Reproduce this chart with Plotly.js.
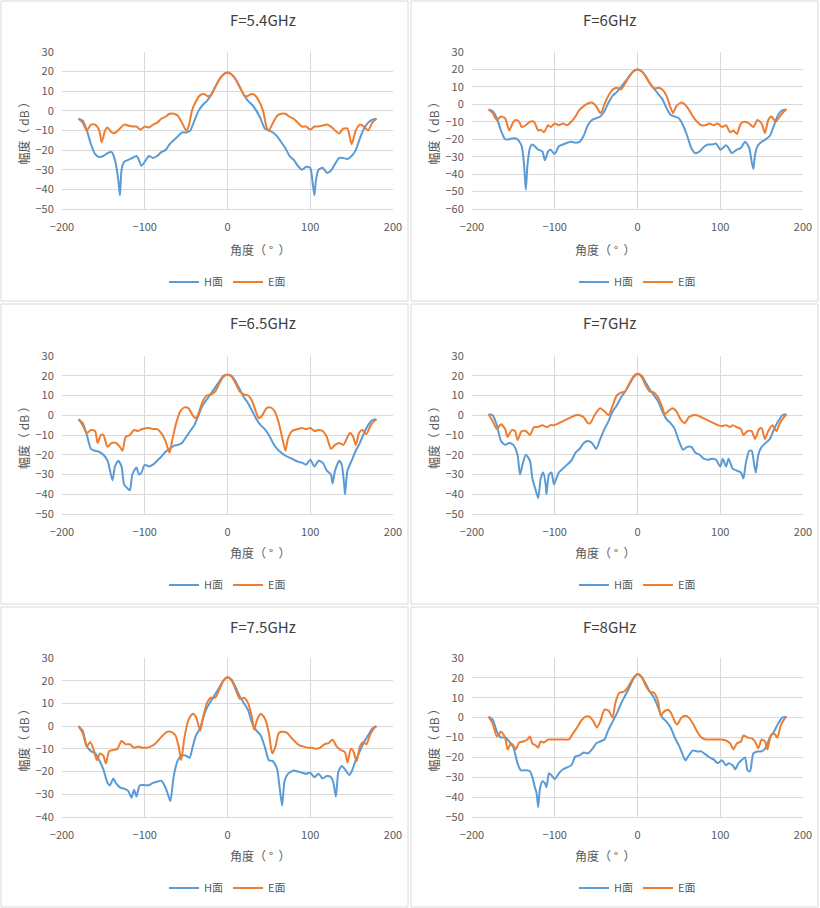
<!DOCTYPE html>
<html>
<head>
<meta charset="utf-8">
<script src="https://cdn.plot.ly/plotly-3.0.1.min.js"></script>
<style>body{margin:0;background:#fff}#chart{width:820px;height:908px}</style>
</head>
<body>
<div id="chart"></div>
<script>
// -----------------------
// Data: [angle, dB]
// -----------------------
const TITLES = ["F=5.4GHz", "F=6GHz", "F=6.5GHz", "F=7GHz", "F=7.5GHz", "F=8GHz"];
const Y_MIN = [-50, -60, -50, -50, -40, -50];

const H_54 = [[-180,-4],[-175,-5],[-170,-10],[-165,-17],[-160,-22],[-155,-23.5],[-150,-23],[-145,-21.5],[-140,-21],[-136,-25],[-132,-35],[-130,-43],[-128,-30],[-125,-26],[-120,-25],[-115,-24],[-110,-23],[-107,-25],[-104,-28],[-100,-26],[-95,-23],[-90,-24],[-85,-23],[-80,-21],[-75,-20],[-70,-17],[-65,-15],[-60,-13],[-55,-11],[-50,-11],[-45,-10],[-40,-5],[-35,0],[-30,3],[-25,5],[-20,8],[-15,12],[-10,16],[-5,18.5],[0,19.5],[5,18.5],[10,16],[15,12],[20,8],[25,5],[30,3],[35,0],[40,-4],[45,-9],[50,-10],[55,-11],[60,-13],[65,-16],[70,-19],[75,-23],[80,-25],[85,-28],[90,-30],[95,-28.5],[100,-29],[103,-37],[105,-43],[107,-35],[110,-30],[115,-29],[120,-31.5],[125,-30.5],[130,-27],[135,-24],[140,-24],[145,-24.5],[150,-23],[155,-20],[160,-14],[165,-9],[170,-6],[175,-4.5],[180,-4]];
const E_54 = [[-180,-4],[-175,-6],[-170,-10],[-165,-7],[-160,-7],[-155,-10],[-152,-16],[-148,-10],[-145,-8.5],[-140,-11],[-135,-11],[-130,-9],[-125,-7],[-120,-7.5],[-115,-8],[-110,-8],[-105,-9.5],[-100,-8],[-95,-8.5],[-90,-7],[-85,-6],[-80,-4],[-75,-3],[-70,-1.5],[-65,-1.5],[-60,-2.5],[-55,-6],[-50,-10],[-47,-8],[-43,0],[-38,5],[-33,8],[-28,8.5],[-24,7.5],[-20,8],[-15,12],[-10,16],[-5,18.5],[0,19.5],[5,18.5],[10,16],[15,12],[20,8],[24,7.5],[28,8.5],[33,8],[38,5],[43,0],[47,-8],[50,-10],[55,-6],[60,-2.5],[65,-1.5],[70,-1.5],[75,-3],[80,-4],[85,-6],[90,-8],[95,-8],[100,-9.5],[105,-8],[110,-8],[115,-7.5],[120,-7],[125,-8],[130,-10],[135,-11.5],[140,-9],[145,-9],[150,-17],[155,-10],[160,-7],[165,-8],[170,-10],[175,-6],[180,-4]];

const H_60 = [[-180,-3],[-175,-4],[-170,-8],[-165,-15],[-160,-20],[-155,-20],[-150,-19.5],[-145,-20],[-140,-24],[-137,-35],[-135,-49],[-133,-35],[-130,-25],[-127,-23],[-120,-26],[-115,-27],[-112,-32],[-108,-27],[-105,-26],[-100,-28.5],[-95,-24],[-90,-23],[-85,-22],[-80,-21.5],[-75,-22],[-70,-21.5],[-65,-18],[-60,-12],[-55,-9],[-50,-8],[-45,-7],[-40,-4],[-35,1],[-30,5],[-25,7],[-20,10],[-15,13],[-10,16],[-5,19],[0,20],[5,19],[10,16],[15,12],[20,9],[25,6],[30,3],[35,-2],[40,-6],[45,-7],[50,-8],[55,-12],[60,-18],[65,-25],[70,-28],[75,-27],[80,-24.5],[85,-23],[90,-23],[95,-22.5],[100,-26],[103,-25],[107,-23.5],[110,-25],[114,-28],[120,-26],[125,-25],[130,-21.5],[135,-25],[138,-33],[140,-37],[142,-29],[145,-24],[150,-21.5],[155,-20],[160,-18],[165,-12],[170,-6],[175,-3.5],[180,-3]];
const E_60 = [[-180,-3],[-175,-5],[-170,-9],[-165,-7],[-160,-8],[-155,-15],[-150,-10],[-147,-9],[-143,-10],[-140,-13],[-135,-12],[-130,-10],[-125,-10],[-120,-15],[-117,-14.5],[-113,-16],[-108,-12],[-105,-13],[-100,-11],[-95,-12],[-90,-11],[-85,-12],[-80,-10],[-75,-7],[-70,-3],[-65,-1],[-60,0.5],[-55,1],[-50,-1],[-45,-5],[-43,-4],[-40,0],[-35,5],[-30,8.5],[-25,9.5],[-20,8.5],[-15,12],[-10,16],[-5,19],[0,20],[5,19],[10,16],[15,12],[20,9],[25,9.5],[30,8.5],[35,5],[40,-2],[43,-5],[47,-1],[53,1],[57,0],[62,-3],[67,-7],[72,-10],[77,-12],[82,-12],[87,-11],[92,-12],[97,-11],[102,-13],[107,-12],[112,-16],[116,-15],[120,-17],[125,-11],[130,-10],[135,-11],[140,-13],[145,-9],[150,-11],[154,-16.5],[158,-9],[162,-7],[167,-10],[172,-7],[177,-4],[180,-3]];

const H_65 = [[-180,-2],[-175,-4],[-170,-10],[-165,-17],[-160,-18],[-155,-18.5],[-150,-20],[-145,-23],[-142,-28],[-139,-33],[-136,-26],[-132,-23],[-128,-26],[-125,-35],[-121,-37],[-118,-38],[-115,-30],[-110,-26.5],[-107,-30],[-104,-29],[-100,-25],[-95,-26],[-90,-25],[-85,-23],[-80,-21],[-75,-18.5],[-70,-17],[-65,-15.5],[-60,-15],[-55,-14],[-50,-11],[-45,-8],[-40,-5],[-35,0],[-30,5],[-25,8],[-20,11],[-15,14],[-10,17],[-5,20],[0,20.5],[5,20],[10,17],[15,13],[20,9],[25,6],[30,2],[35,-2],[40,-5],[45,-7],[50,-10],[55,-14],[60,-17],[65,-19],[70,-20.5],[75,-21.5],[80,-22.5],[85,-23.5],[90,-24],[95,-25],[100,-22.5],[105,-26],[110,-23],[115,-24],[120,-28],[125,-30],[127,-34.5],[130,-28],[135,-23],[138,-25],[141,-35],[142,-40],[145,-28],[150,-23],[155,-18],[160,-14],[165,-9],[170,-5],[175,-2.5],[180,-2]];
const E_65 = [[-180,-2],[-175,-5],[-170,-9],[-165,-7.5],[-160,-8],[-157,-14],[-153,-10],[-150,-10],[-145,-16],[-140,-14],[-135,-14],[-130,-16],[-127,-18],[-123,-11],[-118,-10],[-113,-7.5],[-108,-8],[-103,-7],[-95,-6.5],[-90,-7],[-85,-7],[-80,-9],[-75,-13],[-70,-19],[-67,-13],[-62,-4],[-57,2],[-52,4],[-47,3.5],[-42,0],[-38,-1.5],[-35,1],[-30,7],[-25,10],[-20,10.5],[-15,12],[-10,16],[-5,19.5],[0,20.5],[5,19.5],[10,16],[15,12],[20,10.5],[25,10],[30,7],[35,1],[38,-1.5],[42,0],[47,3.5],[52,4],[57,2],[62,-4],[67,-13],[70,-18],[73,-12],[78,-8],[85,-7],[90,-6.5],[95,-7],[100,-6.5],[105,-8],[110,-7.5],[115,-8],[120,-11],[125,-17],[130,-15],[135,-14],[140,-15],[145,-11],[148,-9],[152,-11],[155,-15],[159,-9],[163,-7.5],[168,-9.5],[172,-6],[177,-3],[180,-2]];

const H_70 = [[-180,0.5],[-175,0],[-170,-5],[-165,-13],[-160,-15],[-155,-14],[-150,-15],[-145,-20],[-142,-30],[-139,-25],[-135,-20],[-130,-23],[-127,-32],[-123,-38],[-120,-42],[-117,-32],[-114,-29],[-111,-35],[-110,-40],[-107,-30],[-104,-29],[-101,-35],[-98,-32],[-95,-29],[-90,-27],[-85,-25],[-80,-23],[-75,-19],[-70,-17],[-65,-14],[-60,-13],[-55,-14],[-50,-17],[-45,-12],[-40,-7],[-35,-3],[-30,2],[-25,5],[-20,9],[-15,12],[-10,15.5],[-5,19],[0,21],[5,20],[10,16.5],[15,13],[20,10],[25,7],[30,2],[35,-2],[40,-4],[45,-7],[50,-13],[55,-17.5],[60,-16],[65,-16],[70,-19],[75,-20],[80,-22],[85,-22.5],[90,-22],[95,-22.5],[100,-26],[103,-22],[107,-26],[110,-22],[115,-27],[120,-28],[125,-29],[128,-32],[131,-24],[135,-18],[138,-18],[141,-25],[143,-29],[146,-20],[150,-16],[155,-14],[160,-12],[165,-7],[170,-3],[175,0],[180,0.5]];
const E_70 = [[-180,0.5],[-175,-3],[-170,-7],[-165,-4.5],[-160,-7],[-157,-11],[-152,-7.5],[-148,-8],[-145,-12.5],[-140,-8],[-135,-8],[-130,-10],[-125,-6],[-120,-6],[-115,-5],[-110,-6],[-105,-5],[-100,-5],[-95,-4],[-90,-3],[-85,-2],[-80,-1],[-75,0],[-70,0],[-65,-1],[-60,-4],[-57,-4],[-52,0],[-45,3.5],[-40,2],[-35,0],[-30,5],[-25,10],[-20,11.5],[-15,12],[-10,16],[-5,19.5],[0,21],[5,19.5],[10,15],[15,12],[20,11.5],[25,9],[30,4],[33,0.5],[37,2],[42,3.5],[47,2],[52,-2],[57,-4],[62,-1],[67,0],[72,0],[77,-1],[82,-2],[87,-3],[92,-4],[97,-5],[102,-5.5],[107,-5],[112,-6],[115,-5],[120,-6],[125,-7],[128,-10],[133,-8],[138,-8],[142,-12],[147,-7],[150,-6.5],[154,-12],[158,-8],[163,-5],[168,-8],[172,-4],[177,-1],[180,0.5]];

const H_75 = [[-180,0],[-175,-2],[-170,-9],[-165,-11],[-160,-12],[-155,-15],[-150,-19],[-145,-25],[-142,-26],[-138,-23],[-135,-25],[-130,-27],[-125,-27.5],[-120,-28.5],[-116,-31.5],[-113,-28],[-110,-31],[-106,-26],[-100,-26],[-95,-26],[-90,-25],[-85,-24.5],[-80,-24],[-75,-27],[-72,-30],[-69,-33],[-65,-22],[-60,-15],[-55,-13],[-50,-13],[-46,-14],[-42,-9],[-38,-4],[-33,-1],[-30,3],[-25,8],[-20,11],[-15,14],[-10,17],[-5,20],[0,21.5],[5,20.5],[10,17],[15,13],[20,10],[25,7],[30,1],[35,-2],[40,-4],[45,-9],[50,-15],[55,-15.5],[60,-19],[63,-27],[66,-35],[69,-24],[73,-21],[80,-19.5],[85,-20],[90,-20.5],[95,-21],[100,-20.5],[105,-22.5],[110,-21],[115,-23],[120,-22],[125,-22.5],[128,-25],[131,-31],[134,-20],[138,-17.5],[142,-19],[147,-21.5],[150,-20],[155,-15],[160,-11],[165,-7],[170,-4],[175,-1],[180,0]];
const E_75 = [[-180,0],[-175,-3],[-170,-9],[-166,-7],[-162,-10],[-158,-15],[-154,-12],[-150,-13],[-147,-16.5],[-143,-11],[-138,-10.5],[-133,-10],[-128,-6.5],[-123,-8],[-118,-8],[-113,-9.5],[-108,-9],[-103,-9.5],[-98,-9.5],[-93,-9],[-88,-8],[-83,-6],[-78,-4],[-73,-2.5],[-68,-2.5],[-63,-4],[-59,-9],[-56,-15],[-52,-5],[-47,3],[-42,5.5],[-38,4],[-33,-2],[-30,3],[-25,10],[-20,12.5],[-15,12.5],[-10,16],[-5,20],[0,21.5],[5,20],[10,16],[15,12],[20,12.5],[25,10],[30,3],[32,-1.5],[36,3],[40,5.5],[45,3.5],[50,-3],[54,-12],[58,-9],[62,-3],[67,-2.5],[72,-3],[77,-5],[82,-7],[87,-8.5],[92,-9],[97,-9.5],[102,-9.5],[107,-10],[112,-9.5],[117,-8],[122,-7.5],[127,-6],[132,-9],[137,-10.5],[142,-11.5],[145,-16],[149,-10],[152,-11],[156,-15.5],[160,-9],[164,-7],[168,-8],[172,-4],[177,-1],[180,0]];

const H_80 = [[-180,0.5],[-175,-1],[-170,-7],[-165,-10],[-160,-10],[-155,-12],[-150,-15],[-145,-23],[-141,-26.5],[-135,-26.5],[-130,-27],[-127,-30],[-124,-35],[-122,-38],[-120,-45],[-118,-36],[-115,-32],[-112,-33],[-110,-35],[-107,-28],[-104,-29],[-100,-31],[-95,-28],[-90,-26],[-85,-25],[-80,-24],[-75,-19.5],[-70,-19],[-65,-17.5],[-60,-18],[-55,-16],[-50,-13],[-45,-12],[-40,-11],[-35,-6],[-30,-2],[-25,2],[-20,7],[-15,11],[-10,15],[-5,19.5],[0,22],[5,20.5],[10,17],[15,13],[20,10],[25,5],[30,0],[35,-2],[40,-5],[45,-10],[50,-14],[55,-19],[58,-21.5],[62,-19],[67,-16.5],[72,-17],[77,-17],[82,-18.5],[87,-20],[92,-21],[97,-23],[102,-21.5],[107,-24],[110,-23],[115,-24],[118,-26],[122,-23],[127,-21],[130,-20],[133,-26.5],[136,-27],[140,-18],[145,-17],[150,-17],[155,-15],[160,-10],[165,-7],[170,-3],[175,0],[180,0.5]];
const E_80 = [[-180,0.5],[-175,-3],[-170,-9.5],[-165,-7],[-160,-10],[-157,-16],[-153,-13],[-150,-14],[-147,-16],[-143,-12.5],[-138,-12],[-133,-11],[-130,-9.5],[-127,-13],[-123,-14],[-120,-15],[-117,-12],[-113,-12.5],[-108,-11],[-103,-11],[-98,-11],[-93,-11],[-88,-11],[-83,-11],[-78,-8],[-73,-5],[-68,-1.5],[-63,0.5],[-58,0.5],[-53,-2],[-49,-5],[-45,-2],[-40,4],[-35,3.5],[-30,0],[-27,7],[-22,12.5],[-17,13],[-12,15],[-5,20],[0,22],[5,20.5],[10,16],[15,13],[20,12.5],[25,8],[28,1],[32,3],[37,4],[41,2],[45,-2],[48,-3.5],[53,0],[58,1],[62,0],[67,-3],[72,-7],[77,-10],[82,-11],[87,-11],[92,-11],[97,-11],[102,-11],[107,-11.5],[112,-13],[116,-16],[120,-13],[125,-12],[128,-9],[133,-10],[138,-10.5],[142,-12],[146,-15.5],[150,-11],[154,-12],[157,-16],[161,-9],[165,-8],[169,-10],[173,-4],[177,-1],[180,0.5]];

const H_SETS = [H_54, H_60, H_65, H_70, H_75, H_80];
const E_SETS = [E_54, E_60, E_65, E_70, E_75, E_80];

// -----------------------
// Layout helpers (pixels -> paper)
// -----------------------
const W = 820, H = 908;
const COL_X = [0, 410];              // panel left edges
const ROW_Y = [0, 303, 606];         // panel top edges
const PLOT_TOP = [52, 356, 658];     // plot area top (px)
const PLOT_BOT = [209, 514, 817];    // plot area bottom (px)
const px = (x) => x / W;
const py = (y) => 1 - y / H;

const FONT = "'Noto Sans CJK SC', 'Noto Sans', sans-serif";
const traces = [];
const layout = {
  width: W, height: H,
  margin: { l: 0, r: 0, t: 0, b: 0 },
  paper_bgcolor: "#fff", plot_bgcolor: "#fff",
  font: { family: FONT, color: "#595959", size: 11 },
  showlegend: true,
  annotations: [], shapes: []
};

for (let i = 0; i < 6; i++) {
  const col = i % 2, row = Math.floor(i / 2);
  const n = i === 0 ? "" : String(i + 1);
  const left = COL_X[col];
  const x0 = left + 62, x1 = left + 393;
  const legName = i === 0 ? "legend" : "legend" + (i + 1);

  const mk = (pts, name, color) => ({
    x: pts.map(p => p[0]), y: pts.map(p => p[1]),
    type: "scatter", mode: "lines", name,
    line: { color, width: 2, shape: "spline", smoothing: 0.6 },
    xaxis: "x" + n, yaxis: "y" + n, legend: legName
  });
  traces.push(mk(H_SETS[i], "H面", "#5B9BD5"));
  traces.push(mk(E_SETS[i], "E面", "#ED7D31"));

  layout["xaxis" + n] = {
    range: [-200, 200], dtick: 100, showgrid: true, gridcolor: "#d9d9d9",
    zeroline: false, showline: true, linecolor: "#d9d9d9",
    ticks: "outside", ticklen: 8, tickcolor: "rgba(0,0,0,0)",
    domain: [px(x0), px(x1)], anchor: "y" + n, fixedrange: true,
    tickfont: { size: 11, color: "#595959" }
  };
  layout["yaxis" + n] = {
    range: [Y_MIN[i], 30], dtick: 10, showgrid: true, gridcolor: "#d9d9d9",
    zeroline: false, showline: false,
    ticks: "outside", ticklen: 5, tickcolor: "rgba(0,0,0,0)",
    domain: [py(PLOT_BOT[row]), py(PLOT_TOP[row])], anchor: "x" + n, fixedrange: true,
    tickfont: { size: 11, color: "#595959" }
  };

  layout[legName] = {
    orientation: "h", x: px((x0 + x1) / 2), xanchor: "center",
    y: py(ROW_Y[row] + 282), yanchor: "middle",
    font: { size: 11, color: "#595959" }, bgcolor: "rgba(0,0,0,0)"
  };

  // panel border
  layout.shapes.push({
    type: "rect", xref: "paper", yref: "paper",
    x0: px(left + 1), x1: px(left + 408), y0: py(ROW_Y[row] + 301), y1: py(ROW_Y[row] + 1),
    line: { color: "#d9d9d9", width: 1 }
  });

  // title + axis titles
  layout.annotations.push(
    { text: TITLES[i], xref: "paper", yref: "paper", x: px((x0 + x1) / 2), y: py(ROW_Y[row] + 20),
      yanchor: "middle", showarrow: false, font: { size: 15, color: "#404040" } },
    { text: "角度（ °  ）", xref: "paper", yref: "paper", x: px((x0 + x1) / 2), y: py(ROW_Y[row] + 249),
      yanchor: "middle", showarrow: false, font: { size: 12, color: "#595959" } },
    { text: "幅度（ dB ）", xref: "paper", yref: "paper", x: px(left + 23), y: py((PLOT_TOP[row] + PLOT_BOT[row]) / 2),
      xanchor: "center", yanchor: "middle", textangle: -90, showarrow: false, font: { size: 12, color: "#595959" } }
  );
}

Plotly.newPlot("chart", traces, layout, { displayModeBar: false, staticPlot: true });
</script>
</body>
</html>
